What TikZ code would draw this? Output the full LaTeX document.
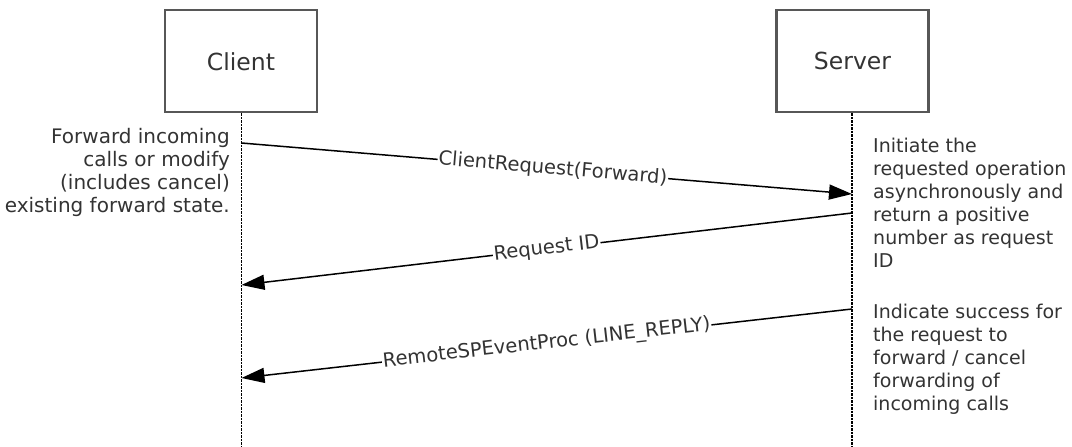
\documentclass[tikz,border=0pt]{standalone}
\usepackage{fontspec}
\setmainfont{DejaVu Sans}
\usetikzlibrary{arrows.meta}
\begin{document}
\begin{tikzpicture}[x=1pt, y=-1pt,
    actor/.style={draw=black!66, line width=2.2pt, minimum width=152pt, minimum height=102pt, inner sep=0pt, font=\fontsize{23.5}{28}\selectfont, text=black!80},
    lifeline/.style={line width=1.4pt, dash pattern=on 2.2pt off 1.3pt},
    msg/.style={line width=1.5pt, -{Triangle[length=23pt,width=15pt]}},
    msglabel/.style={sloped, fill=white, inner sep=1pt, font=\fontsize{19.5}{23}\selectfont, text=black!80},
    note/.style={inner sep=0pt, font=\fontsize{19}{23}\selectfont, text=black!80}]
	    \useasboundingbox (0,0) rectangle (1072,447);
	    
	    \node [actor] (client) at (241,61.25) {Client};
	    \node [actor] (server) at (852.5,61.25) {Server};
	    \coordinate (clientend) at (241.5,447);
	    \coordinate (serverend) at (852,447);
	    
	    \draw [lifeline] (client.south -| clientend) -- (clientend);
	    \draw [lifeline] (server.south -| serverend) -- (serverend);
	    
	    \coordinate (ma) at (241.5,143);
	    \coordinate (mb) at (852,194);
	    \coordinate (mc) at (852,213);
	    \coordinate (md) at (241.5,285);
	    \coordinate (me) at (852,309);
	    \coordinate (mf) at (241.5,378);
	    
		\draw [msg] (ma) -- node [msglabel, pos=0.51] (request) {ClientRequest(Forward)} (mb);
		\draw [msg] (mc) -- node [msglabel] (reqid) {Request ID} (md);
		\draw [msg] (me) -- node [msglabel] (reply) {RemoteSPEventProc (LINE\_REPLY)} (mf);
		
	    \node [note, anchor=north east, align=right, font=\fontsize{20}{23}\selectfont] (clientnote) at (230,128) {Forward incoming\\calls or modify\\(includes cancel)\\existing forward state.};
	    \node [note, anchor=north west, align=left] (servernotea) at (873,137.6) {Initiate the\\requested operation\\asynchronously and\\return a positive\\number as request\\ID};
	    \node [note, anchor=north west, align=left] (servernoteb) at (873,303.6) {Indicate success for\\the request to\\forward / cancel\\forwarding of\\incoming calls};
		
	\end{tikzpicture}
\end{document}
